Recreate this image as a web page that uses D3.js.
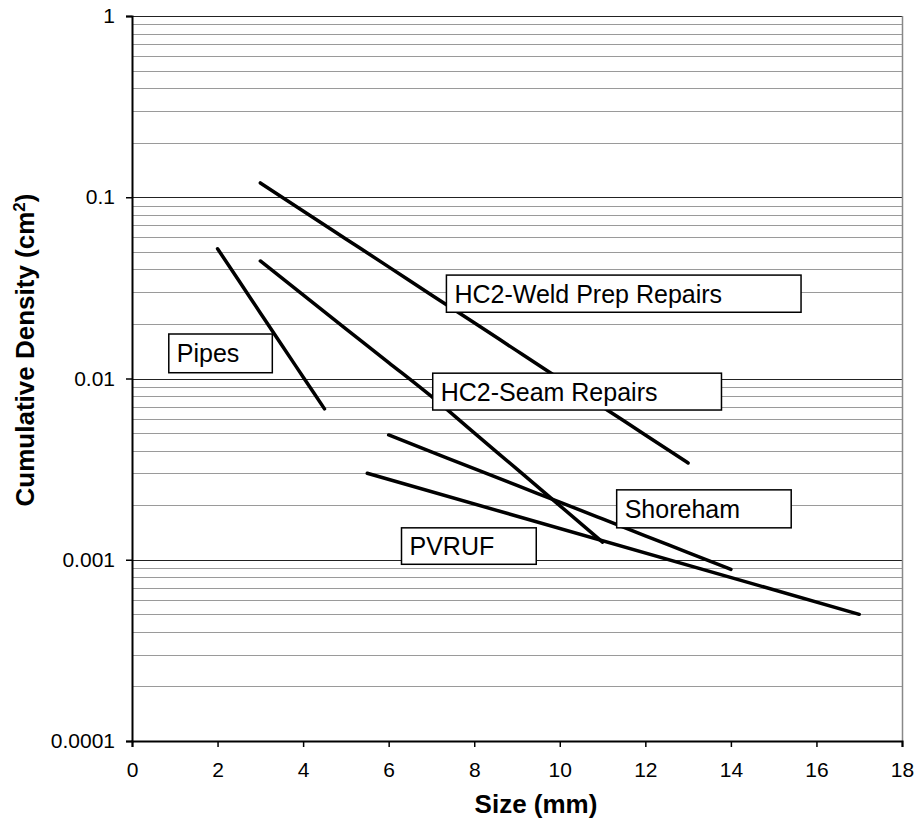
<!DOCTYPE html>
<html>
<head>
<meta charset="utf-8">
<script src="https://cdn.jsdelivr.net/npm/d3@7"></script>
<style>
  body { margin: 0; background: #fff; }
  text { font-family: "Liberation Sans", Arial, sans-serif; fill: #000; }
</style>
</head>
<body>
<div id="chart"></div>
<script>
// series (size in mm, cumulative density in cm^-2)
var weldX  = [3, 4, 5, 6, 7, 8, 9, 10, 11, 12, 13];
var weldY  = [0.1199, 0.0840, 0.0589, 0.0413, 0.0289, 0.0203, 0.0142, 0.00994, 0.00697, 0.00488, 0.00342];
var seamX  = [3, 4, 5, 6, 7, 8, 9, 10, 11];
var seamY  = [0.0445, 0.0289, 0.0188, 0.01225, 0.00796, 0.00501, 0.00316, 0.00199, 0.00125];
var pipesX = [2, 2.5, 3, 3.5, 4, 4.5];
var pipesY = [0.052, 0.0346, 0.023, 0.0153, 0.0102, 0.0068];
var shoreX = [6, 7, 8, 9, 10, 11, 12, 13, 14];
var shoreY = [0.00488, 0.00394, 0.00318, 0.00257, 0.00208, 0.00168, 0.001356, 0.001096, 0.000885];
var pvrufX = [5.5, 17];
var pvrufY = [0.003, 0.0005];

var xTicks = [0, 2, 4, 6, 8, 10, 12, 14, 16, 18];
var yTicks = [0.0001, 0.001, 0.01, 0.1, 1];
var yTickLabels = ["0.0001", "0.001", "0.01", "0.1", "1"];

// text boxes, corners in data units
var notes = [
  {text: "HC2-Weld Prep Repairs", x0: 7.35, x1: 15.64, y0: 0.0372, y1: 0.0232},
  {text: "HC2-Seam Repairs",      x0: 7.03, x1: 13.78, y0: 0.0107, y1: 0.0067},
  {text: "Pipes",                 x0: 0.86, x1: 3.28,  y0: 0.0176, y1: 0.01076},
  {text: "Shoreham",              x0: 11.33, x1: 15.41, y0: 0.00243, y1: 0.0015},
  {text: "PVRUF",                 x0: 6.30, x1: 9.45,  y0: 0.0015, y1: 0.000944}
];

var margin = {top: 16, right: 18, bottom: 89, left: 132};
var W = 920, H = 830;
var w = W - margin.left - margin.right;
var h = H - margin.top - margin.bottom;

var svg = d3.select("#chart").append("svg")
    .attr("width", W)
    .attr("height", H);

var g = svg.append("g")
    .attr("transform", "translate(" + margin.left + "," + margin.top + ")");

var x = d3.scaleLinear().domain([0, 18]).range([0, w]);
var y = d3.scaleLog().domain([0.0001, 1]).range([h, 0]);

// gridlines, minor first then decades on top
var allTicks = y.ticks();
var isMajor = d => Math.abs(Math.log10(d) - Math.round(Math.log10(d))) < 1e-9;

g.selectAll("line.minor")
  .data(allTicks.filter(d => !isMajor(d)))
  .enter().append("line")
    .attr("class", "minor")
    .attr("x1", 0).attr("x2", w)
    .attr("y1", d => Math.round(y(d)) + 0.5)
    .attr("y2", d => Math.round(y(d)) + 0.5)
    .attr("stroke", "#9a9a9a")
    .attr("stroke-width", 1);

g.selectAll("line.major")
  .data(yTicks)
  .enter().append("line")
    .attr("class", "major")
    .attr("x1", 0).attr("x2", w)
    .attr("y1", d => Math.round(y(d)) + 0.5)
    .attr("y2", d => Math.round(y(d)) + 0.5)
    .attr("stroke", "#222")
    .attr("stroke-width", 1);

// right border of plot area
g.append("line")
  .attr("x1", w + 0.5).attr("x2", w + 0.5)
  .attr("y1", 0).attr("y2", h)
  .attr("stroke", "#888")
  .attr("stroke-width", 1.5);

// the curves
var series = [
  {xs: weldX, ys: weldY},
  {xs: seamX, ys: seamY},
  {xs: pipesX, ys: pipesY},
  {xs: shoreX, ys: shoreY},
  {xs: pvrufX, ys: pvrufY}
];

var line = d3.line()
  .x(d => x(d[0]))
  .y(d => y(d[1]))
  .curve(d3.curveMonotoneX);

g.selectAll("path.series")
  .data(series)
  .enter().append("path")
    .attr("class", "series")
    .attr("d", s => line(s.xs.map((v, i) => [v, s.ys[i]])))
    .attr("fill", "none")
    .attr("stroke", "#000")
    .attr("stroke-width", 3.5)
    .attr("stroke-linecap", "round")
    .attr("stroke-linejoin", "round");

// axes
var yAxis = g.append("g")
  .call(d3.axisLeft(y).tickValues(yTicks).tickFormat((d, i) => yTickLabels[i])
    .tickSize(6).tickPadding(11));

var xAxis = g.append("g")
  .attr("transform", "translate(0," + h + ")")
  .call(d3.axisBottom(x).tickValues(xTicks).tickFormat(d3.format("d"))
    .tickSize(6).tickPadding(15));

[yAxis, xAxis].forEach(a => {
  a.select(".domain").attr("stroke", "#000").attr("stroke-width", 2);
  a.selectAll(".tick line").attr("stroke", "#000").attr("stroke-width", 1.5);
  a.selectAll(".tick text")
    .style("font-family", '"Liberation Sans", Arial, sans-serif')
    .style("font-size", "21px")
    .attr("fill", "#000");
});

// text boxes on top of the lines
var boxes = g.selectAll("g.note")
  .data(notes)
  .enter().append("g")
    .attr("class", "note");

boxes.append("rect")
  .attr("x", d => x(d.x0))
  .attr("y", d => y(d.y0))
  .attr("width", d => x(d.x1) - x(d.x0))
  .attr("height", d => y(d.y1) - y(d.y0))
  .attr("fill", "#fff")
  .attr("stroke", "#000")
  .attr("stroke-width", 1.5);

boxes.append("text")
  .attr("x", d => x(d.x0) + 8)
  .attr("y", d => (y(d.y0) + y(d.y1)) / 2 + 9)
  .style("font-size", "25px")
  .text(d => d.text);

// axis titles
svg.append("text")
  .attr("x", 536)
  .attr("y", 813)
  .attr("text-anchor", "middle")
  .style("font-size", "26px")
  .style("font-weight", "bold")
  .text("Size (mm)");

var yt = svg.append("text")
  .attr("transform", "translate(34,350) rotate(-90)")
  .attr("text-anchor", "middle")
  .style("font-size", "26px")
  .style("font-weight", "bold");
yt.append("tspan").text("Cumulative Density (cm");
yt.append("tspan").attr("baseline-shift", "super").style("font-size", "17px").text("2");
yt.append("tspan").text(")");
</script>
</body>
</html>
